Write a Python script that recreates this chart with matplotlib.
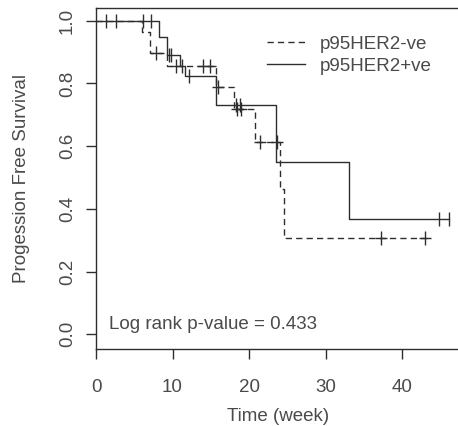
"""Kaplan-Meier progression free survival by p95HER2 status."""

import numpy as np
import matplotlib.pyplot as plt

plt.rcParams["font.family"] = ["Liberation Sans", "DejaVu Sans"]

# step curves (time in weeks, survival after each event)
neg_times = [0, 6.0, 7.1, 9.3, 15.7, 18.1, 20.8, 24.05, 24.6, 43.7]
neg_surv = [1.0, 0.965, 0.896, 0.855, 0.789, 0.718, 0.614, 0.463, 0.306, 0.306]
neg_censor = [7.9, 10.5, 14.0, 14.9, 15.9, 18.4, 19.0, 21.4, 23.6, 37.2, 43.0]

pos_times = [0, 8.3, 9.3, 11.0, 11.6, 15.7, 23.5, 33.1, 46.1]
pos_surv = [1.0, 0.947, 0.890, 0.855, 0.823, 0.731, 0.548, 0.367, 0.367]
pos_censor = [1.3, 2.6, 6.1, 7.2, 9.6, 9.8, 11.2, 12.1, 18.3, 18.8, 44.8, 46.1]

labels = ["p95HER2-ve", "p95HER2+ve"]
pvalue = 0.433

x_ticks = [0, 10, 20, 30, 40]
y_ticks = [0.0, 0.2, 0.4, 0.6, 0.8, 1.0]

INK = "#2e2e2e"
TEXT = "#4a4a4a"
FS = 13.5


def surv_at(times, surv, t):
    idx = np.searchsorted(times, t, side="right") - 1
    return np.asarray(surv)[idx]


fig = plt.figure(figsize=(4.58, 4.26), dpi=100)
ax = fig.add_axes([96 / 458, 1 - 349 / 426, (461 - 96) / 458, 341 / 426])

ax.step(neg_times, neg_surv, where="post", color=INK, lw=1.0,
        linestyle=(0, (4.5, 3)), label=labels[0])
ax.step(pos_times, pos_surv, where="post", color=INK, lw=1.0,
        linestyle="-", label=labels[1])

# censored observations as small crosses on each curve
neg_cy = surv_at(neg_times, neg_surv, neg_censor)
ax.plot(neg_censor, neg_cy, ls="none", marker="|", ms=10, mew=1.0, color=INK)
ax.plot(neg_censor, neg_cy, ls="none", marker="_", ms=8, mew=1.0, color=INK)
ax.plot(pos_censor, surv_at(pos_times, pos_surv, pos_censor), ls="none",
        marker="|", ms=10, mew=1.0, color=INK)

ax.set_xlim(0, (461 - 96) / 7.65)
ax.set_ylim(-0.047, 1.0405)

ax.spines["right"].set_visible(False)
for side in ["top", "left", "bottom"]:
    ax.spines[side].set_color(INK)
    ax.spines[side].set_linewidth(1.0)

ax.set_xticks(x_ticks)
ax.set_yticks(y_ticks)
ax.set_yticklabels([f"{v:.1f}" for v in y_ticks], rotation=90, va="center")
ax.tick_params(axis="both", direction="out", length=7.5, width=1.0,
               color=INK, labelcolor=TEXT, labelsize=FS)
ax.tick_params(axis="x", pad=14)
ax.tick_params(axis="y", pad=7)

ax.set_xlabel("Time (week)", fontsize=FS, color=TEXT, labelpad=9)
ax.set_ylabel("Progession Free Survival", fontsize=FS, color=TEXT, labelpad=21)

ax.text(1.7, 0.03, f"Log rank p-value = {pvalue}", fontsize=FS, color=TEXT,
        va="center", ha="left")

leg = ax.legend(loc="center left", bbox_to_anchor=(0.469, 0.862), frameon=False,
                fontsize=FS, handlelength=2.0, handletextpad=0.8,
                labelspacing=0.25, borderpad=0, borderaxespad=0)
for t in leg.get_texts():
    t.set_color(TEXT)

fig.savefig("out.png", dpi=100)
